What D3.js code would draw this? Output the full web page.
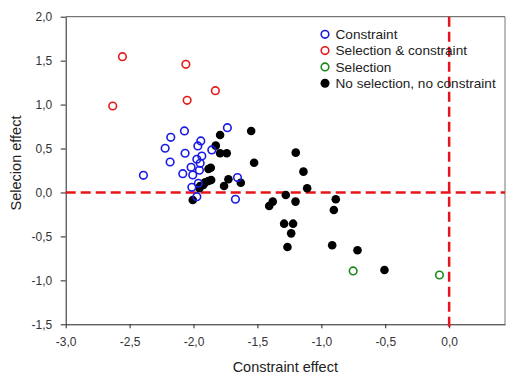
<!DOCTYPE html>
<html><head><meta charset="utf-8">
<script src="https://cdn.jsdelivr.net/npm/d3@7"></script>
<style>body{margin:0;background:#fff}svg{display:block}</style>
</head><body>
<script>
const xTicks = [-3.0,-2.5,-2.0,-1.5,-1.0,-0.5,0.0];
const yTicks = [-1.5,-1.0,-0.5,0.0,0.5,1.0,1.5,2.0];
const legendLabels = ["Constraint","Selection & constraint","Selection","No selection, no constraint"];
const constraintPts = [[-2.392,0.195],[-2.222,0.503],[-2.178,0.628],[-2.183,0.347],[-2.071,0.700],[-2.066,0.446],[-2.084,0.214],[-2.019,0.287],[-2.006,0.199],[-1.974,0.378],[-1.935,0.415],[-1.948,0.332],[-1.954,0.253],[-1.966,0.530],[-1.943,0.586],[-1.857,0.484],[-1.735,0.737],[-1.656,0.169],[-1.672,-0.077],[-1.962,0.105],[-2.013,0.059],[-1.974,-0.048]];
const selConstraintPts = [[-2.556,1.545],[-2.632,0.984],[-2.060,1.458],[-2.050,1.049],[-1.829,1.158]];
const selectionPts = [[-0.751,-0.893],[-0.076,-0.939]];
const nonePts = [[-1.549,0.700],[-1.526,0.339],[-1.200,0.453],[-1.140,0.237],[-1.111,0.048],[-1.278,-0.028],[-1.380,-0.104],[-1.408,-0.154],[-1.202,-0.104],[-0.887,-0.077],[-0.902,-0.199],[-1.291,-0.355],[-1.221,-0.355],[-1.236,-0.465],[-1.265,-0.620],[-0.915,-0.601],[-0.717,-0.658],[-0.506,-0.882],[-1.792,0.654],[-1.826,0.533],[-1.792,0.446],[-1.740,0.446],[-1.865,0.282],[-1.883,0.267],[-1.883,0.131],[-1.909,0.116],[-1.948,0.074],[-1.727,0.150],[-1.761,0.074],[-1.630,0.111],[-2.006,-0.085],[-1.954,0.048],[-1.923,0.085],[-1.862,0.142]];

const W=507,H=377;
const L=65.7,R=505,T=16.7,B=324.3;
const x=d3.scaleLinear().domain([-3.0,0.437]).range([L,R]);
const y=d3.scaleLinear().domain([-1.5,2.0]).range([B,T]);
const fmt=d=>d3.format(".1f")(d).replace(".",",").replace("−","-");
const svg=d3.select("body").append("svg").attr("width",W).attr("height",H)
  .style("font-family","'Liberation Sans', Arial, sans-serif");

// frame top/right
svg.append("line").attr("x1",L).attr("x2",R).attr("y1",T).attr("y2",T).attr("stroke","#555").attr("stroke-width",1);
svg.append("line").attr("x1",R).attr("x2",R).attr("y1",T).attr("y2",B).attr("stroke","#777").attr("stroke-width",1);

const gx=svg.append("g").attr("transform",`translate(0,${B})`)
  .call(d3.axisBottom(x).tickValues(xTicks).tickFormat(fmt).tickSize(4).tickSizeOuter(0));
const gy=svg.append("g").attr("transform",`translate(${L},0)`)
  .call(d3.axisLeft(y).tickValues(yTicks).tickFormat(fmt).tickSize(5).tickSizeOuter(0));
[gx,gy].forEach(g=>{
  g.selectAll(".domain").attr("stroke","#222");
  g.selectAll(".tick line").attr("stroke","#222");
  g.selectAll("text").attr("fill","#333").style("font-size","12px").style("font-family","'Liberation Sans', Arial, sans-serif");
});
gx.selectAll("text").attr("y",13);
gy.selectAll("text").attr("x",-13.5);

// reference lines
svg.append("line").attr("x1",L).attr("x2",R).attr("y1",y(0)).attr("y2",y(0))
  .attr("stroke","#e8141c").attr("stroke-width",2.5).attr("stroke-dasharray","10,5");
svg.append("line").attr("x1",x(0)).attr("x2",x(0)).attr("y1",T).attr("y2",B+3)
  .attr("stroke","#e8141c").attr("stroke-width",2.5).attr("stroke-dasharray","10,5");

// points
const pg=svg.append("g");
pg.selectAll(".n").data(nonePts).join("circle").attr("cx",d=>x(d[0])).attr("cy",d=>y(d[1])).attr("r",4.3).attr("fill","#000");
pg.selectAll(".c").data(constraintPts).join("circle").attr("cx",d=>x(d[0])).attr("cy",d=>y(d[1])).attr("r",3.8).attr("fill","none").attr("stroke","#1a1ae6").attr("stroke-width",1.6);
pg.selectAll(".s").data(selConstraintPts).join("circle").attr("cx",d=>x(d[0])).attr("cy",d=>y(d[1])).attr("r",3.8).attr("fill","none").attr("stroke","#e61a1a").attr("stroke-width",1.6);
pg.selectAll(".g").data(selectionPts).join("circle").attr("cx",d=>x(d[0])).attr("cy",d=>y(d[1])).attr("r",3.8).attr("fill","none").attr("stroke","#1a8a1a").attr("stroke-width",1.6);

// legend
const lcol=[{s:"#1a1ae6",f:"none"},{s:"#e61a1a",f:"none"},{s:"#1a8a1a",f:"none"},{s:"none",f:"#000"}];
const lg=svg.append("g");
legendLabels.forEach((t,i)=>{
  const yy=34.3+i*16.3;
  lg.append("circle").attr("cx",325).attr("cy",yy).attr("r",i===3?4.5:3.8)
    .attr("fill",lcol[i].f).attr("stroke",lcol[i].s).attr("stroke-width",1.6);
  lg.append("text").attr("x",335.5).attr("y",yy).attr("dy","0.35em").text(t)
    .attr("fill","#222").style("font-size","13.6px");
});

// axis titles
svg.append("text").attr("x",285.3).attr("y",371.5).attr("text-anchor","middle").text("Constraint effect")
  .attr("fill","#222").style("font-size","14.5px");
svg.append("text").attr("transform","translate(20.5,163) rotate(-90)").attr("text-anchor","middle").text("Selecion effect")
  .attr("fill","#222").style("font-size","14.5px");
</script>
</body></html>
